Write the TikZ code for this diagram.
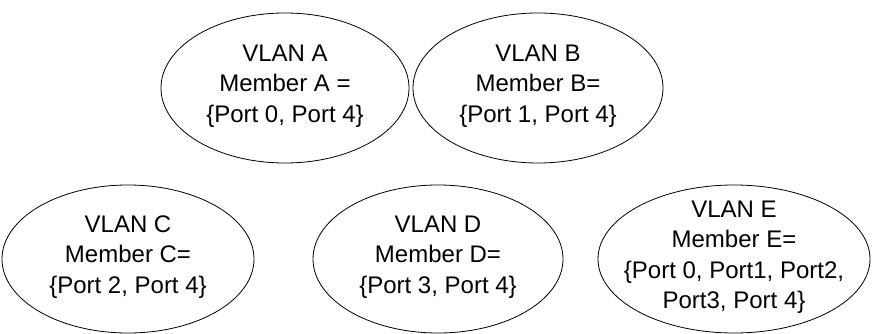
\documentclass[tikz,border=0pt]{standalone}
\usepackage{fontspec}
\setmainfont{Liberation Sans}
\usetikzlibrary{shapes.geometric}
\begin{document}
\begin{tikzpicture}[x=1pt,y=-1pt,
  vlan/.style={ellipse, draw, line width=0.8pt, inner sep=0pt, minimum height=150pt},
  vtext/.style={align=center, inner sep=0pt, font=\fontsize{24}{30.5}\selectfont}]
\useasboundingbox (0,0) rectangle (872,334);
\node[vlan, minimum width=248pt] (A) at (285,88) {};
\node[vlan, minimum width=250pt] (B) at (538,88) {};
\node[vlan, minimum width=252pt, minimum height=148pt] (C) at (128,259) {};
\node[vlan, minimum width=250pt, minimum height=148pt] (D) at (438,259) {};
\node[vlan, minimum width=272pt, minimum height=148pt] (E) at (734,259) {};
\node[vtext] (tA) at ([yshift=2pt]A.center) {VLAN A\\Member A =\\\{Port 0, Port 4\}};
\node[vtext] (tB) at ([yshift=2pt]B.center) {VLAN B\\Member B=\\\{Port 1, Port 4\}};
\node[vtext] (tC) at ([yshift=2pt]C.center) {VLAN C\\Member C=\\\{Port 2, Port 4\}};
\node[vtext] (tD) at ([yshift=2pt]D.center) {VLAN D\\Member D=\\\{Port 3, Port 4\}};
\node[vtext] (tE) at ([yshift=2pt]E.center) {VLAN E\\Member E=\\\{Port 0, Port1, Port2,\\Port3, Port 4\}};
\end{tikzpicture}
\end{document}
